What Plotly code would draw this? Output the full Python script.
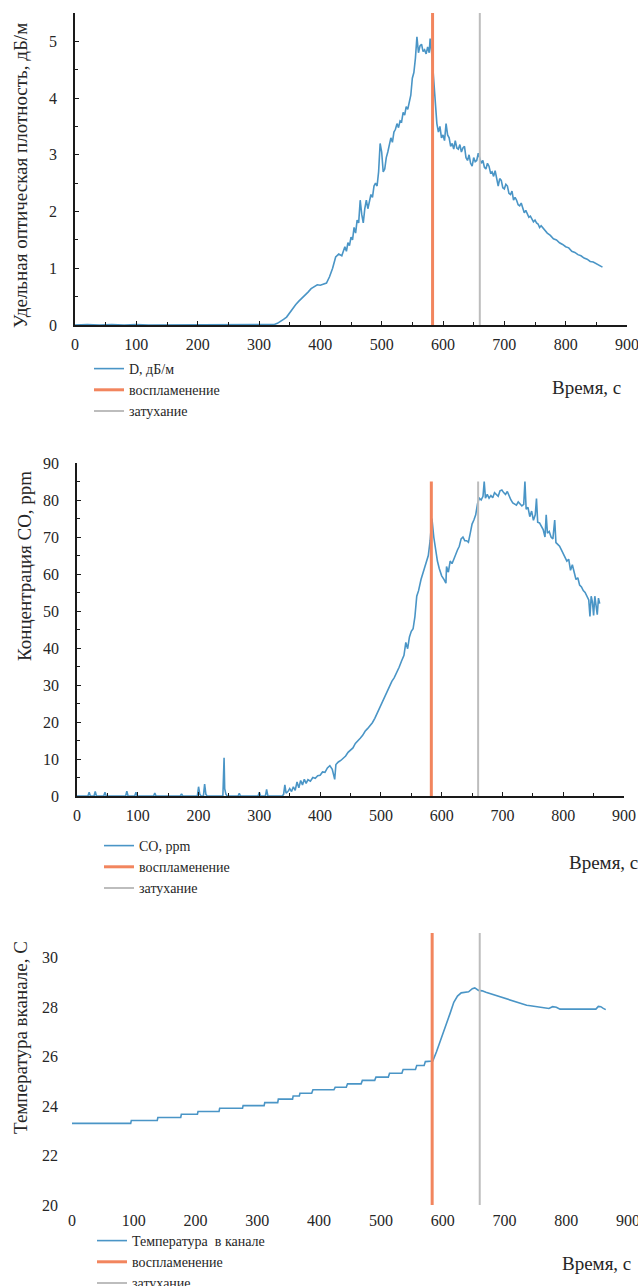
import plotly.graph_objects as go

W, H = 638, 1286

# ---------------- data ----------------
IGNITION_T = 583
EXTINCTION_T = 660

# Panel 1: optical density D, dB/m
d_time = [0, 20, 40, 60, 80, 100, 120, 140, 160, 180, 200, 220, 240, 260, 280, 300, 320,
          325, 330, 335, 340, 345, 350, 355, 360, 365, 370, 375, 380, 385, 390, 395, 400,
          405, 410, 415, 420, 425, 430, 435,
          440, 442.5, 445, 447.5, 450, 452.5, 455, 457.5, 460, 462.5, 465, 467.5, 470, 472.5,
          475, 477.5, 480, 482.5, 485, 487.5, 490, 492.5, 495, 497.5, 500, 502.5, 505, 507.5,
          510, 512.5, 515, 517.5, 520, 522.5, 525, 527.5, 530, 532.5, 535, 537.5, 540, 542.5,
          545, 547.5, 550, 552.5, 555, 557.5, 560, 562.5, 565, 567.5, 570, 572.5, 575, 577.5,
          579, 582, 585, 588, 590, 592.5, 595, 597.5, 600, 602.5, 605, 607.5, 610, 612.5, 615,
          617.5, 620, 622.5, 625, 627.5, 630, 632.5, 635, 637.5, 640, 642.5, 645, 647.5, 650,
          652.5, 655, 657.5, 660, 662.5, 665, 667.5, 670, 672.5, 675, 677.5, 680, 682.5, 685,
          687.5, 690, 692.5, 695, 697.5, 700, 702.5, 705, 707.5, 710, 712.5, 715, 717.5, 720,
          722.5, 725, 727.5, 730, 732.5, 735, 737.5, 740, 742.5, 745, 747.5, 750, 752.5, 755,
          757.5, 760,
          765, 770, 775, 780, 785, 790, 795, 800, 805, 810, 815, 820, 825, 830, 835, 840, 845,
          850, 855, 860]
d_vals = [0.0, 0.01, 0.0, 0.01, 0.0, 0.01, 0.0, 0.0, 0.01, 0.0, 0.01, 0.0, 0.01, 0.0, 0.01, 0.0, 0.0,
          0.01, 0.03, 0.06, 0.10, 0.14, 0.22, 0.30, 0.36, 0.42, 0.47, 0.52, 0.58, 0.64, 0.68, 0.71, 0.70,
          0.72, 0.74, 0.85, 1.00, 1.20, 1.25, 1.22,
          1.38, 1.30, 1.45, 1.40, 1.55, 1.50, 1.72, 1.62, 1.85, 1.80, 2.20, 1.95, 1.80, 2.05,
          2.20, 2.05, 2.15, 2.30, 2.25, 2.45, 2.50, 2.45, 2.70, 3.20, 3.05, 2.70, 2.75, 2.95,
          3.05, 3.20, 3.30, 3.22, 3.40, 3.45, 3.55, 3.48, 3.60, 3.58, 3.75, 3.70, 3.85, 3.80,
          3.95, 4.05, 4.35, 4.45, 4.70, 5.08, 4.80, 4.92, 4.95, 4.82, 4.85, 4.78, 4.90, 4.80,
          5.05, 4.75, 4.30, 3.90, 3.55, 3.40, 3.50, 3.30, 3.35, 3.25, 3.55, 3.35, 3.30, 3.15, 3.20,
          3.10, 3.25, 3.12, 3.10, 3.18, 3.05, 3.12, 3.15, 2.95, 2.90, 3.00, 2.85, 2.80, 2.95,
          2.88, 2.90, 3.03, 2.92, 2.85, 2.90, 2.78, 2.75, 2.85, 2.80, 2.68, 2.70, 2.62, 2.72,
          2.55, 2.45, 2.58, 2.55, 2.42, 2.40, 2.48, 2.45, 2.32, 2.30, 2.36, 2.20, 2.25, 2.20,
          2.12, 2.10, 2.15, 2.05, 1.98, 2.02, 1.95, 1.90, 1.92, 1.88, 1.82, 1.85, 1.80, 1.78,
          1.72, 1.75,
          1.68, 1.62, 1.58, 1.52, 1.50, 1.45, 1.42, 1.38, 1.36, 1.30, 1.28, 1.24, 1.22, 1.18, 1.16,
          1.12, 1.11, 1.08, 1.06, 1.02]

# Panel 2: CO concentration, ppm
co_time = [0, 10, 18, 20, 22, 28, 30, 32, 40, 44, 46, 48, 60, 80, 82, 84, 95, 97, 99, 120, 126, 128,
           130, 150, 170, 172, 174, 185, 190, 198, 200, 202, 204, 208, 210, 212, 214, 230, 240, 242,
           243, 245, 247, 250, 265, 267, 269, 290, 298, 300, 302, 310, 312, 314, 330, 338,
           340, 342, 344, 347, 350, 353, 356, 359, 362, 365, 368, 371, 374, 377, 380, 384, 388, 392,
           396, 400, 404, 408, 412, 416, 420, 424, 426, 430, 434, 438, 442, 446, 450, 454, 458, 462,
           466, 470, 474, 478, 482, 486, 490, 494, 498, 502, 506, 510, 514, 518, 522, 526, 530, 534,
           538, 541, 544, 547, 550, 553, 556, 559, 562, 566, 570, 574, 578, 581, 584, 587, 590, 593,
           596, 600, 604, 607, 608, 611, 614, 617, 620, 623, 626, 629, 632, 635, 638, 641, 644, 647,
           650, 653, 656, 659, 662, 665, 668, 670, 672, 675, 678, 681, 684, 687, 690, 693, 696, 699,
           702, 705, 708, 711, 714, 717, 720, 723, 726, 729, 732, 735, 737, 739, 742, 745, 748, 751,
           754, 756, 758, 761, 764, 767, 770, 772, 774, 777, 780, 783, 786, 788, 791, 794, 797, 800,
           803, 806, 809, 812, 815, 818, 821, 824, 827, 830, 833, 836, 839, 842, 844, 846, 848, 850,
           852, 854, 856, 858, 860]
co_vals = [0, 0, 0, 1.0, 0, 0, 1.2, 0, 0, 0, 1.0, 0, 0, 0, 1.3, 0, 0, 1.0, 0, 0, 0, 0.8,
           0, 0, 0, 0.6, 0, 0, 0, 0, 2.5, 0.5, 0, 0, 3.2, 0.5, 0, 0, 0, 10.3,
           2.0, 0.5, 0, 0, 0, 0.7, 0, 0, 0, 1.0, 0, 0, 1.8, 0, 0, 0,
           0.5, 3.0, 0.8, 1.2, 2.0, 1.2, 2.5, 1.5, 3.8, 2.2, 4.2, 3.0, 4.5, 3.4, 4.4, 4.0, 5.0, 4.8,
           5.5, 5.6, 6.5, 6.4, 7.6, 8.2, 7.2, 4.5, 8.5, 9.2, 9.6, 10.3, 10.8, 11.8, 12.4, 13.0, 14.2, 14.8,
           15.6, 16.4, 17.5, 18.2, 19.0, 19.8, 21.0, 22.4, 24.0, 25.5, 26.8, 28.2, 29.6, 31.0, 32.0, 33.2, 34.8, 36.5,
           38.0, 41.5, 39.8, 43.0, 44.5, 45.2, 48.5, 54.0, 55.5, 58.5, 60.5, 62.5, 65.0, 69.0, 75.0, 70.0, 66.0, 63.5,
           61.5, 59.5, 58.5, 57.5, 62.0, 60.5, 63.5, 62.8, 64.0, 65.5, 66.5, 67.5, 69.5, 70.0, 69.0, 69.0, 68.6, 71.0,
           73.5, 74.6, 76.0, 79.0, 80.5, 80.0, 81.0, 85.0, 80.5, 81.5, 80.5, 81.2, 80.6, 82.0, 81.5, 81.0, 82.5, 82.7,
           82.0, 81.5, 82.3, 81.0, 80.0, 79.2, 79.0, 78.6, 79.5, 79.0, 78.4, 78.8, 85.0, 77.5, 78.0, 75.5, 77.0, 74.5,
           76.0, 80.4, 74.0, 73.8, 73.0, 72.0, 70.0, 76.0, 71.0, 71.5, 70.0, 69.5, 74.6, 68.5, 68.0, 67.5, 66.5, 65.5,
           64.6, 63.5, 64.0, 61.0, 62.5, 60.5, 58.5, 59.0, 57.0, 56.5, 55.5, 55.0, 54.0, 53.0, 48.5, 54.0, 52.5, 48.8,
           54.0, 52.0, 49.0, 53.5, 52.0]

# Panel 3: temperature in the channel, C
t_time = [0, 95, 96, 138, 139, 176, 177, 203, 204, 238, 239, 276, 277, 311, 312, 333, 334, 357, 358,
          368, 369, 388, 390, 424, 426, 444, 446, 468, 470, 490, 492, 512, 514, 534, 536, 556, 558,
          570, 572, 584, 590, 599, 605, 612, 618, 624, 630, 636, 642, 648, 652, 658, 664, 670, 676,
          682, 688, 694, 700, 706, 712, 718, 724, 730, 736, 742, 748, 754, 760, 766, 772, 778, 784,
          790, 796, 802, 808, 820, 840, 848, 852, 856, 860, 864]
t_vals = [23.3, 23.3, 23.42, 23.42, 23.54, 23.54, 23.67, 23.67, 23.78, 23.78, 23.91, 23.91, 24.02, 24.02,
          24.14, 24.14, 24.28, 24.28, 24.41, 24.41, 24.52, 24.52, 24.66, 24.66, 24.76, 24.76, 24.9, 24.9,
          25.04, 25.04, 25.17, 25.17, 25.33, 25.33, 25.48, 25.48, 25.64, 25.64, 25.8, 25.82, 26.2, 26.8,
          27.25, 27.75, 28.2, 28.45, 28.58, 28.6, 28.62, 28.75, 28.78, 28.68, 28.66, 28.6, 28.55, 28.5,
          28.46, 28.4, 28.37, 28.3, 28.25, 28.2, 28.17, 28.1, 28.08, 28.06, 28.04, 28.02, 27.98, 27.96,
          27.95, 28.02, 28.0, 27.92, 27.92, 27.9, 27.9, 27.9, 27.9, 27.92, 28.03, 28.02, 27.95, 27.9]

# ---------------- style ----------------
BLUE = "#4A95C6"
RED = "#F2855E"
GRAY = "#BDBDBD"
FONT = "Liberation Serif"
TXT = "#262626"
TICK_SIZE = 16
LEG_SIZE = 14
TITLE_SIZE = 19


def px(xp):
    return xp / W


def py(yp):
    return 1 - yp / H


panels = [
    dict(x=d_time, y=d_vals, name="D, дБ/м", yr=[0, 5.5], vl=[0, 5.5],
         xdom=[75, 627], ydom=[13, 325], dtick=1, mdtick=0.5, lines=True,
         title="Удельная оптическая плотность, дБ/м", tx=20, ty=176,
         leg=(89, 353), time=(623, 387, "right")),
    dict(x=co_time, y=co_vals, name="СО, ppm", yr=[0, 90], vl=[0, 85],
         xdom=[77, 624], ydom=[463, 796], dtick=10, mdtick=5, lines=True,
         title="Концентрация СО, ppm", tx=24, ty=566,
         leg=(99, 830), time=(567, 862, "left")),
    dict(x=t_time, y=t_vals, name="Температура  в канале", yr=[20, 31], vl=[20, 31],
         xdom=[72, 628], ydom=[933, 1205], dtick=2, mdtick=None, lines=False,
         title="Температура вканале, С", tx=20, ty=1038,
         leg=(92, 1225), time=(560, 1263, "left")),
]

fig = go.Figure()
layout = dict(width=W, height=H, margin=dict(l=0, r=0, t=0, b=0, pad=0, autoexpand=False),
              paper_bgcolor="white", plot_bgcolor="white", showlegend=True,
              font=dict(family=FONT, color=TXT), annotations=[])

for i, p in enumerate(panels):
    k = "" if i == 0 else str(i + 1)
    xa, ya, lg = "x" + k, "y" + k, "legend" + k
    fig.add_trace(go.Scatter(x=p["x"], y=p["y"], mode="lines", name=p["name"],
                             line=dict(color=BLUE, width=1.6), xaxis=xa, yaxis=ya, legend=lg))
    fig.add_trace(go.Scatter(x=[IGNITION_T, IGNITION_T], y=p["vl"], mode="lines",
                             name="воспламенение", line=dict(color=RED, width=3),
                             xaxis=xa, yaxis=ya, legend=lg))
    fig.add_trace(go.Scatter(x=[EXTINCTION_T, EXTINCTION_T], y=p["vl"], mode="lines",
                             name="затухание", line=dict(color=GRAY, width=2),
                             xaxis=xa, yaxis=ya, legend=lg))

    axline = p["lines"]
    xaxis = dict(domain=[px(p["xdom"][0]), px(p["xdom"][1])], range=[0, 900], anchor=ya,
                 dtick=100, tick0=0, showgrid=False, zeroline=False,
                 showline=axline, linecolor="#1a1a1a", linewidth=1.5,
                 ticks="inside" if axline else "", ticklen=4, tickcolor="#1a1a1a",
                 tickfont=dict(family=FONT, size=TICK_SIZE, color=TXT), ticklabelstandoff=4,
                 ticklabeloverflow="allow", fixedrange=True, automargin=False)
    if axline:
        xaxis["minor"] = dict(dtick=50, tick0=0, ticks="inside", ticklen=3, tickcolor="#1a1a1a")
    yaxis = dict(domain=[py(p["ydom"][1]), py(p["ydom"][0])], range=p["yr"], anchor=xa,
                 dtick=p["dtick"], tick0=p["yr"][0], showgrid=False, zeroline=False,
                 showline=axline, linecolor="#1a1a1a", linewidth=1.5,
                 ticks="inside" if axline else "", ticklen=4, tickcolor="#1a1a1a",
                 tickfont=dict(family=FONT, size=TICK_SIZE, color=TXT), ticklabelstandoff=13,
                 ticklabeloverflow="allow", fixedrange=True, automargin=False)
    if axline and p["mdtick"]:
        yaxis["minor"] = dict(dtick=p["mdtick"], tick0=0, ticks="inside", ticklen=3,
                              tickcolor="#1a1a1a")
    layout["xaxis" + k] = xaxis
    layout["yaxis" + k] = yaxis
    layout[lg] = dict(x=px(p["leg"][0]), y=py(p["leg"][1]), xanchor="left", yanchor="top",
                      bgcolor="rgba(0,0,0,0)", borderwidth=0, itemwidth=30,
                      font=dict(family=FONT, size=LEG_SIZE, color=TXT), tracegroupgap=0)
    layout["annotations"].append(dict(text=p["title"], textangle=-90, xref="paper", yref="paper",
                                      x=px(p["tx"]), y=py(p["ty"]), xanchor="center",
                                      yanchor="middle", showarrow=False,
                                      font=dict(family=FONT, size=TITLE_SIZE, color=TXT)))
    tx, ty, anc = p["time"]
    layout["annotations"].append(dict(text="Время, с", xref="paper", yref="paper",
                                      x=px(tx), y=py(ty), xanchor=anc, yanchor="middle",
                                      showarrow=False,
                                      font=dict(family=FONT, size=TITLE_SIZE, color=TXT)))

fig.update_layout(**layout)
fig.write_html("out.html", config={"displayModeBar": False},
               post_script="document.body.style.margin='0';")
